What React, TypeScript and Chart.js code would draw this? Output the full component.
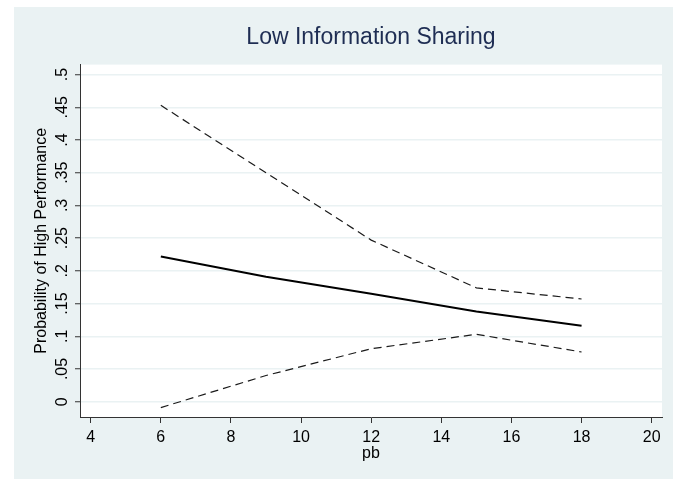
import React, { useEffect, useRef } from 'react';
import { Chart, registerables } from 'chart.js';

Chart.register(...registerables);

// ---- data ----
const pbValues = [6, 9, 12, 15, 18];
const probability = [0.222, 0.191, 0.165, 0.138, 0.116];
const upperCI = [0.453, 0.35, 0.247, 0.174, 0.157];
const lowerCI = [-0.009, 0.04, 0.081, 0.103, 0.076];

const xTickValues = [4, 6, 8, 10, 12, 14, 16, 18, 20];
const yTickValues = [0, 0.05, 0.1, 0.15, 0.2, 0.25, 0.3, 0.35, 0.4, 0.45, 0.5];
const yTickLabels = ['0', '.05', '.1', '.15', '.2', '.25', '.3', '.35', '.4', '.45', '.5'];

const titleText = 'Low Information Sharing';
const xTitle = 'pb';
const yTitle = 'Probability of High Performance';

const FONT = '"Liberation Sans", Arial, sans-serif';
const BG = '#EAF2F3';

const bgPlugin = {
  id: 'stataBg',
  beforeDraw(chart: any) {
    const { ctx, chartArea, width, height } = chart;
    ctx.save();
    ctx.fillStyle = '#ffffff';
    ctx.fillRect(0, 0, width, height);
    ctx.fillStyle = BG;
    ctx.fillRect(14, 7, width - 14, height - 7);
    ctx.fillStyle = '#ffffff';
    ctx.fillRect(chartArea.left, chartArea.top, chartArea.right - chartArea.left, chartArea.bottom - chartArea.top);
    ctx.restore();
  },
};

const yLabelPlugin = {
  id: 'rotatedYLabels',
  afterDraw(chart: any) {
    const ys = chart.scales.y;
    const ctx = chart.ctx;
    ctx.save();
    ctx.font = `16px ${FONT}`;
    ctx.fillStyle = '#000';
    ctx.textAlign = 'center';
    ctx.textBaseline = 'alphabetic';
    yTickValues.forEach((v, i) => {
      const py = ys.getPixelForValue(v);
      ctx.save();
      ctx.translate(ys.right - 13.5, py);
      ctx.rotate(-Math.PI / 2);
      ctx.fillText(yTickLabels[i], 0, 0);
      ctx.restore();
    });
    ctx.restore();
  },
};

export default function App() {
  const ref = useRef<HTMLCanvasElement | null>(null);

  useEffect(() => {
    if (!ref.current) return;
    const mk = (arr: number[]) => pbValues.map((x, i) => ({ x, y: arr[i] }));
    const chart = new Chart(ref.current, {
      type: 'line',
      data: {
        datasets: [
          {
            label: 'upper',
            data: mk(upperCI),
            borderColor: '#1a1a1a',
            borderWidth: 1.2,
            borderDash: [8, 5],
            pointRadius: 0,
            tension: 0,
            fill: false,
          },
          {
            label: 'prob',
            data: mk(probability),
            borderColor: '#000',
            borderWidth: 2,
            pointRadius: 0,
            tension: 0,
            fill: false,
          },
          {
            label: 'lower',
            data: mk(lowerCI),
            borderColor: '#1a1a1a',
            borderWidth: 1.2,
            borderDash: [8, 5],
            pointRadius: 0,
            tension: 0,
            fill: false,
          },
        ],
      },
      options: {
        responsive: false,
        animation: false,
        devicePixelRatio: 1,
        layout: { padding: { left: 0, right: 11, top: 0, bottom: 0 } },
        plugins: {
          legend: { display: false },
          tooltip: { enabled: false },
          title: {
            display: true,
            text: titleText,
            fullSize: false,
            color: 'rgb(30,45,83)',
            font: { size: 23, family: FONT, weight: 'normal' },
            padding: { top: 24, bottom: 13 },
          },
        },
        scales: {
          x: {
            type: 'linear',
            min: 3.695,
            max: 20.294,
            afterBuildTicks: (s: any) => {
              s.ticks = xTickValues.map((v) => ({ value: v }));
            },
            afterFit: (s: any) => {
              s.height = 62;
            },
            ticks: {
              color: '#000',
              font: { size: 16, family: FONT },
              padding: 5,
              maxRotation: 0,
              autoSkip: false,
            },
            grid: {
              drawOnChartArea: false,
              drawTicks: true,
              tickLength: 6,
              tickColor: '#333',
              tickWidth: 1,
            },
            border: { display: true, color: '#333', width: 1 },
            title: {
              display: true,
              text: xTitle,
              color: '#000',
              font: { size: 16, family: FONT },
              padding: { top: 0, bottom: 16 },
            },
          },
          y: {
            type: 'linear',
            min: -0.0234,
            max: 0.5153,
            afterBuildTicks: (s: any) => {
              s.ticks = yTickValues.map((v) => ({ value: v }));
            },
            afterFit: (s: any) => {
              s.width = 80;
            },
            ticks: { display: false },
            grid: {
              color: BG,
              lineWidth: 1.5,
              drawTicks: true,
              tickLength: 5,
              tickColor: '#333',
              tickWidth: 1,
            },
            border: { display: true, color: '#333', width: 1 },
            title: {
              display: true,
              text: yTitle,
              color: '#000',
              font: { size: 16, family: FONT },
              padding: { top: 32, bottom: 0 },
            },
          },
        },
      },
      plugins: [bgPlugin, yLabelPlugin],
    } as any);
    return () => chart.destroy();
  }, []);

  return (
    <div style={{ position: 'absolute', left: 0, top: 0, width: 673, height: 479, background: '#fff' }}>
      <canvas ref={ref} width={673} height={479} style={{ display: 'block' }} />
    </div>
  );
}
